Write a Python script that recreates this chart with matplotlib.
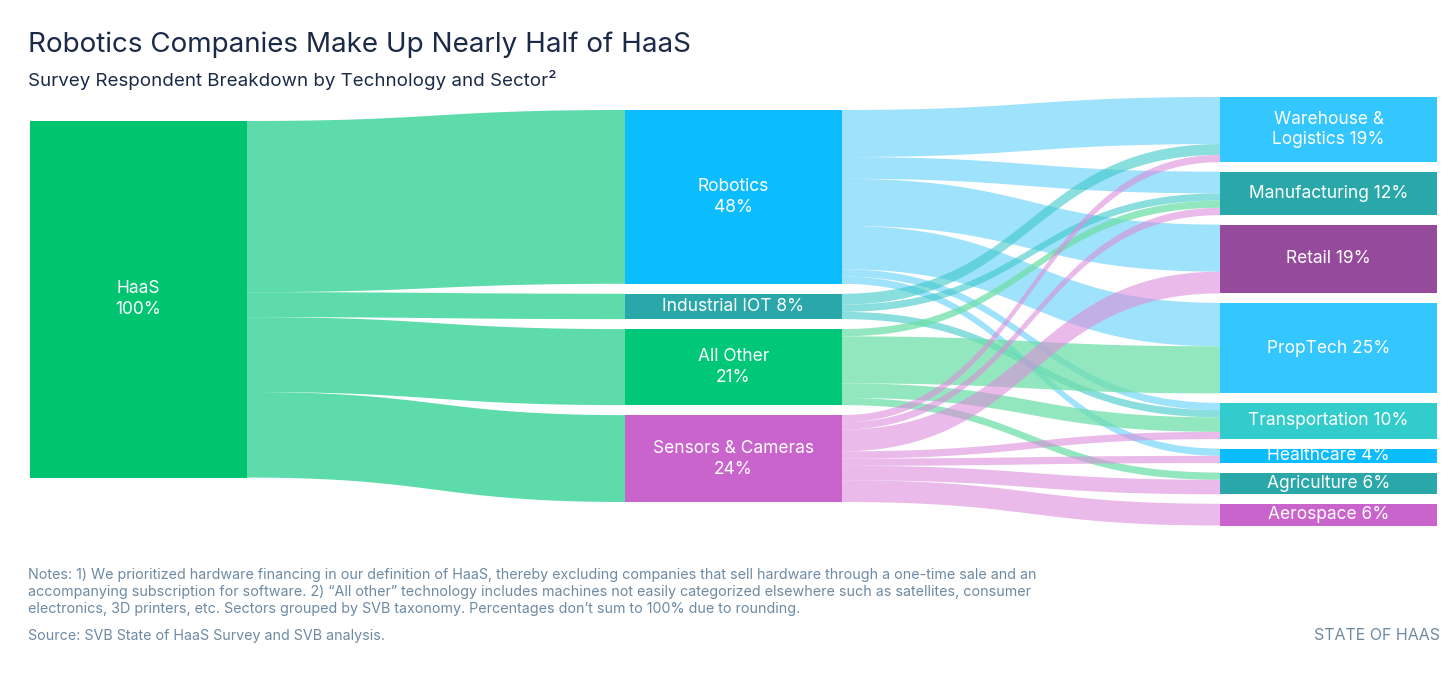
import numpy as np
import matplotlib.pyplot as plt
from matplotlib.patches import Polygon, Rectangle

plt.rcParams['font.family'] = ['Inter', 'DejaVu Sans']

tech = ["Robotics", "Industrial IOT", "All Other", "Sensors & Cameras"]
tech_labels = ["Robotics\n48%", "Industrial IOT 8%", "All Other\n21%", "Sensors & Cameras\n24%"]
tech_colors = ["#0bbcff", "#2aa7a8", "#00c878", "#c964cc"]

sectors = ["Warehouse", "Manufacturing", "Retail", "PropTech", "Transportation",
           "Healthcare", "Agriculture", "Aerospace"]
sector_labels = ["Warehouse &\nLogistics 19%", "Manufacturing 12%", "Retail 19%", "PropTech 25%",
                 "Transportation 10%", "Healthcare 4%", "Agriculture 6%", "Aerospace 6%"]
sector_values = [19, 12, 19, 25, 10, 4, 6, 6]
sector_colors = ["#33c6ff", "#2aa7a8", "#954a9c", "#33c6ff", "#33cccc", "#0bbcff", "#2aa7a8", "#c964cc"]

# flows[tech][sector] in percent
flows = [
    [13, 6, 13, 12, 2, 2, 0, 0],
    [3, 2, 0, 0, 2, 0, 0, 0],
    [0, 2, 0, 13, 4, 0, 2, 0],
    [2, 2, 6, 0, 2, 2, 4, 6],
]

S = 3.62  # px per percent
fig = plt.figure(figsize=(14.56, 6.74), dpi=100)
ax = fig.add_axes([0, 0, 1, 1])
ax.set_xlim(0, 1456)
ax.set_ylim(674, 0)
ax.axis("off")


def band(x0, y0a, y0b, x1, y1a, y1b, color, alpha):
    t = np.linspace(0, 1, 60)
    xm = (x0 + x1) / 2
    xs = (1 - t) ** 3 * x0 + 3 * (1 - t) ** 2 * t * xm + 3 * (1 - t) * t ** 2 * xm + t ** 3 * x1
    s = 3 * t ** 2 - 2 * t ** 3
    top = y0a + (y1a - y0a) * s
    bot = y0b + (y1b - y0b) * s
    pts = np.vstack([np.column_stack([xs, top]), np.column_stack([xs[::-1], bot[::-1]])])
    ax.add_patch(Polygon(pts, closed=True, fc=color, ec="none", alpha=alpha, lw=0))


tech_tot = [sum(r) for r in flows]
total = sum(tech_tot)
X0, X1, X2, W = 30, 625, 1220, 217

# HaaS node
haas_top = 121
ax.add_patch(Rectangle((X0, haas_top), W, total * S * 0.985, fc="#00c46f", ec="none"))
ax.text(X0 + W / 2, haas_top + total * S * 0.985 / 2, "HaaS\n100%", color="white",
        ha="center", va="center", fontsize=12.5, linespacing=1.3)

# tech nodes
tech_tops = []
y = 110
for i, v in enumerate(tech_tot):
    h = v * S
    tech_tops.append(y)
    ax.add_patch(Rectangle((X1, y), W, h, fc=tech_colors[i], ec="none"))
    ax.text(X1 + W / 2, y + h / 2, tech_labels[i], color="white", ha="center", va="center",
            fontsize=12.5, linespacing=1.3)
    y += h + 10

# HaaS -> tech flows
y0 = haas_top
for i, v in enumerate(tech_tot):
    h = v * S * 0.985
    band(X0 + W, y0, y0 + h, X1, tech_tops[i], tech_tops[i] + v * S, "#5ddbaa", 1.0)
    y0 += h

# sector nodes
sec_in = [sum(flows[i][j] for i in range(4)) for j in range(8)]
sec_tops = []
y = 97
for j, v in enumerate(sec_in):
    h = v * S
    sec_tops.append(y)
    ax.add_patch(Rectangle((X2, y), W, h, fc=sector_colors[j], ec="none"))
    y += h + 9.5

# tech -> sector flows
src_off = list(tech_tops)
dst_off = list(sec_tops)
for j in range(8):
    for i in range(4):
        pass
order = []
for i in range(4):
    for j in range(8):
        if flows[i][j]:
            order.append((i, j))
src_pos = {}
for i, j in order:
    src_pos[(i, j)] = src_off[i]
    src_off[i] += flows[i][j] * S
dst_pos = {}
for j in range(8):
    for i in range(4):
        if flows[i][j]:
            dst_pos[(i, j)] = dst_off[j]
            dst_off[j] += flows[i][j] * S
flow_colors = ["#7fd9fb", "#3cc8c8", "#6fdfaa", "#dc8ddc"]
for i, j in order:
    h = flows[i][j] * S
    band(X1 + W, src_pos[(i, j)], src_pos[(i, j)] + h, X2, dst_pos[(i, j)], dst_pos[(i, j)] + h,
         flow_colors[i], 0.6 if i in (1, 3) else 0.75)

# sector labels on top
for j in range(8):
    h = sec_in[j] * S
    ax.text(X2 + W / 2, sec_tops[j] + h / 2, sector_labels[j], color="white", ha="center",
            va="center", fontsize=12.5, linespacing=1.2)

ax.text(28, 45, "Robotics Companies Make Up Nearly Half of HaaS", fontsize=20,
        color="#1b2a47", va="center")
ax.text(28, 80, "Survey Respondent Breakdown by Technology and Sector²", fontsize=13.5,
        color="#1b2a47", va="center")
notes = ("Notes: 1) We prioritized hardware financing in our definition of HaaS, thereby excluding companies that sell hardware through a one-time sale and an\n"
         "accompanying subscription for software. 2) \u201cAll other\u201d technology includes machines not easily categorized elsewhere such as satellites, consumer\n"
         "electronics, 3D printers, etc. Sectors grouped by SVB taxonomy. Percentages don\u2019t sum to 100% due to rounding.")
ax.text(28, 568, notes, fontsize=10.3, color="#6d8aa3", va="top", linespacing=1.25)
ax.text(28, 636, "Source: SVB State of HaaS Survey and SVB analysis.", fontsize=10.3,
        color="#6d8aa3", va="center")
ax.text(1440, 636, "STATE OF HAAS", fontsize=11.5, color="#6d8aa3", ha="right", va="center")

fig.savefig("out.png", dpi=100)
